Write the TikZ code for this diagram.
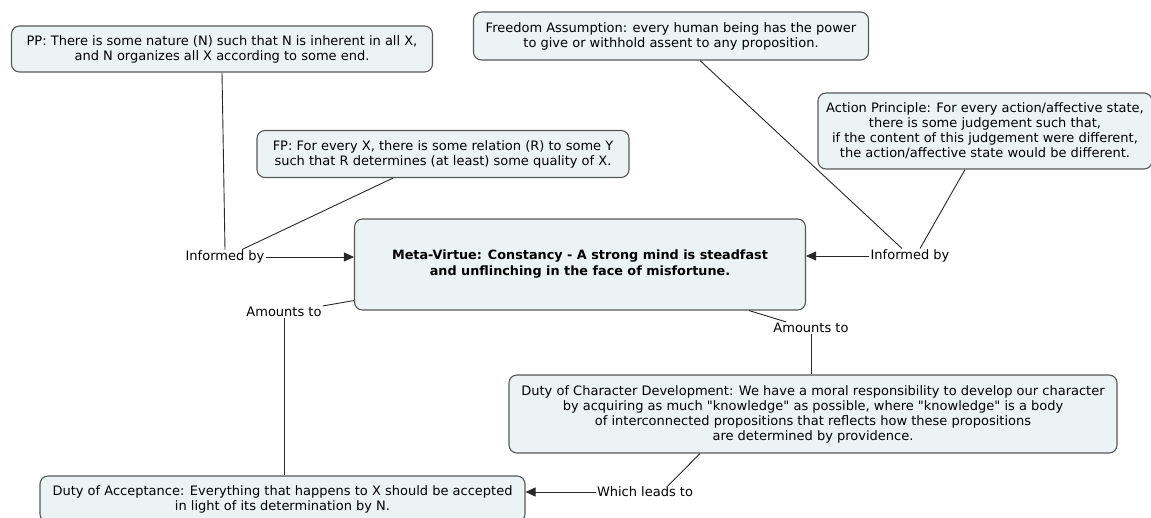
\documentclass[tikz,border=0pt]{standalone}
\usepackage{fontspec}
\setmainfont{DejaVu Sans}
\usetikzlibrary{arrows.meta,calc}
\definecolor{boxfill}{RGB}{236,243,245}
\definecolor{boxline}{RGB}{88,88,88}
\definecolor{conn}{RGB}{40,40,40}
\begin{document}
\begin{tikzpicture}[x=1pt,y=-1pt,
  box/.style={draw=boxline,line width=1.1pt,fill=boxfill,rounded corners=8pt,
    align=center,inner sep=0pt,font=\fontsize{13}{15}\selectfont},
  lbl/.style={inner sep=1pt,font=\fontsize{13}{15}\selectfont},
  conn/.style={draw=conn,line width=0.9pt},
  arr/.style={conn,-{Triangle[length=10pt,width=9pt]}}]
\useasboundingbox (0,0) rectangle (1151,518);
\fill[white] (0,0) rectangle (1151,518);
% boxes
\node[box,minimum width=421,minimum height=46] (pp) at (222,49)
  {PP: There is some nature (N) such that N is inherent in all X,\\and N organizes all X according to some end.};
\node[box,minimum width=395,minimum height=48] (fa) at (671,36)
  {Freedom Assumption: every human being has the power\\to give or withhold assent to any proposition.};
\node[box,minimum width=334,minimum height=76] (ap) at (985,131)
  {Action Principle: For every action/affective state,\\there is some judgement such that,\\if the content of this judgement were different,\\the action/affective state would be different.};
\node[box,minimum width=372,minimum height=47] (fp) at (443,154)
  {FP: For every X, there is some relation (R) to some Y\\such that R determines (at least) some quality of X.};
\node[box,minimum width=451,minimum height=91,font=\bfseries\fontsize{12.8}{16}\selectfont] (meta) at (580,264.5)
  {Meta-Virtue: Constancy - A strong mind is steadfast\\and unflinching in the face of misfortune.};
\node[box,minimum width=608,minimum height=78] (dcd) at (813,414)
  {Duty of Character Development: We have a moral responsibility to develop our character\\by acquiring as much \textquotedbl knowledge\textquotedbl{} as possible, where \textquotedbl knowledge\textquotedbl{} is a body\\of interconnected propositions that reflects how these propositions\\are determined by providence.};
\node[box,minimum width=485,minimum height=46] (acc) at (282.5,499)
  {Duty of Acceptance: Everything that happens to X should be accepted\\in light of its determination by N.};
% labels
\node[lbl] (ib1) at (225,257) {Informed by};
\node[lbl] (ib2) at (910,256) {Informed by};
\node[lbl] (at1) at (284,312) {Amounts to};
\node[lbl] (at2) at (811,328) {Amounts to};
\node[lbl] (wl) at (645,492) {Which leads to};
% connectors
\draw[conn] (pp.south) -- (ib1.north);
\draw[conn] ($(fp.south)+(-50,0)$) -- ($(ib1.north)+(17,0)$);
\draw[arr] (ib1.east) -- (ib1.east -| meta.west);
\draw[conn] ($(fa.south)+(29,0)$) -- ($(ib2.north)+(-8,0)$);
\draw[conn] ($(ap.south)+(-20,0)$) -- ($(ib2.north)+(10,0)$);
\draw[arr] (ib2.west) -- (ib2.west -| meta.east);
\draw[conn] ($(meta.south west)+(0,-10)$) -- (at1.north east);
\draw[conn] (at1.south) -- (at1.south |- acc.north);
\draw[conn] ($(meta.south)+(169,0)$) -- ($(at2.north west)+(14,0)$);
\draw[conn] (at2.south) -- (at2.south |- dcd.north);
\draw[conn] ($(dcd.south)+(-113,0)$) -- ($(wl.north)+(23,0)$);
\draw[arr] (wl.west) -- (wl.west -| acc.east);
\end{tikzpicture}
\end{document}
